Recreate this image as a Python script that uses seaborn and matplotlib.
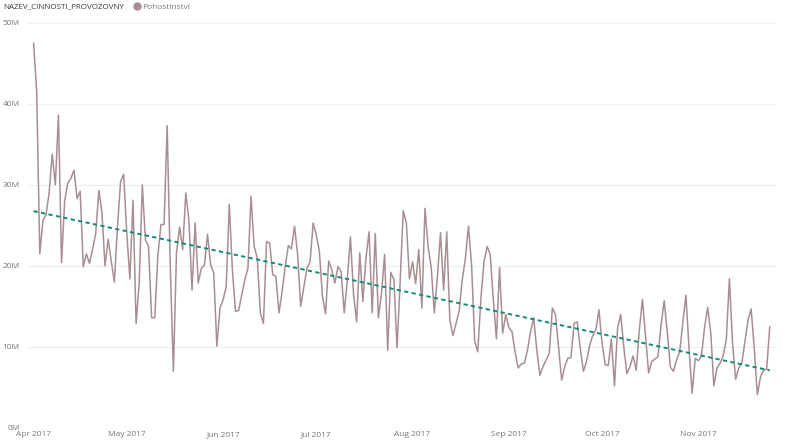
# Daily sales of the "Pohostinství" category, Apr-Nov 2017, with linear trend
import numpy as np
import pandas as pd
import matplotlib
matplotlib.use("Agg")
import matplotlib.pyplot as plt
import matplotlib.dates as mdates
from matplotlib.lines import Line2D
from matplotlib.ticker import FuncFormatter
import seaborn as sns

# 1. Data (millions, one value per day)
apr = [47.5, 41.5, 21.5, 25.6, 26.3, 29.0, 33.8, 30.0, 38.6, 20.4,
       28.0, 30.2, 30.8, 31.8, 28.3, 29.2, 19.9, 21.5, 20.3, 22.1,
       24.0, 29.3, 26.6, 20.0, 23.3, 20.6, 18.0, 24.8, 30.4, 31.3]
may = [24.0, 18.4, 28.1, 12.9, 17.9, 30.0, 23.2, 22.4, 13.6, 13.6,
       21.2, 25.1, 25.1, 37.3, 20.0, 7.0, 21.6, 24.8, 22.0, 29.0,
       25.7, 17.0, 25.3, 17.9, 19.7, 20.1, 23.9, 20.1, 19.1, 10.1, 14.8]
jun = [15.8, 17.4, 27.6, 19.5, 14.4, 14.5, 16.4, 18.3, 19.7, 28.6,
       22.4, 21.0, 14.2, 12.9, 23.0, 22.8, 18.9, 18.7, 14.2, 16.8,
       19.9, 22.5, 22.1, 24.9, 21.4, 15.0, 17.4, 19.7, 20.5, 25.3]
jul = [23.8, 21.8, 16.2, 14.1, 20.6, 19.5, 17.9, 19.9, 19.3, 14.2,
       18.3, 23.6, 16.5, 13.1, 21.6, 15.6, 21.0, 24.2, 14.2, 24.0,
       13.6, 16.6, 21.4, 9.6, 19.2, 18.3, 9.9, 18.0, 26.8, 25.3, 18.4]
aug = [20.5, 17.8, 22.0, 14.8, 27.1, 22.4, 19.8, 14.2, 18.7, 24.1,
       17.0, 24.2, 13.3, 11.4, 12.9, 14.4, 18.3, 20.9, 24.9, 20.1,
       10.7, 9.4, 16.0, 20.5, 22.4, 21.4, 15.8, 11.0, 19.8, 11.7, 14.0]
sep = [12.4, 11.9, 9.4, 7.4, 7.9, 8.0, 9.6, 11.9, 13.6, 9.6,
       6.5, 7.6, 8.4, 9.2, 14.8, 14.0, 10.0, 5.9, 7.6, 8.6,
       8.7, 12.9, 13.1, 9.8, 7.0, 8.2, 10.2, 11.4, 12.1, 14.6]
oct_ = [10.5, 7.8, 7.7, 11.0, 5.2, 12.3, 14.0, 10.0, 6.7, 7.6,
        8.9, 7.1, 12.1, 15.9, 11.3, 6.8, 8.2, 8.5, 8.8, 12.7,
        15.7, 11.8, 7.5, 7.0, 8.4, 9.4, 13.0, 16.4, 9.8, 4.3, 8.6]
nov = [8.3, 8.9, 12.4, 14.9, 11.7, 5.2, 7.4, 8.0, 8.9, 10.9,
       18.4, 10.5, 6.0, 7.4, 8.0, 10.7, 13.3, 14.7, 9.8, 4.1,
       6.3, 7.1, 7.3, 12.5]

legend_title = "NAZEV_CINNOSTI_PROVOZOVNY"
series_name = "Pohostinství"

line_color = "#a88e92"
trend_color = "#178a7b"

values = np.array(apr + may + jun + jul + aug + sep + oct_ + nov) * 1e6
dates = pd.date_range("2017-04-01", periods=len(values), freq="D")
df = pd.DataFrame({"datum": dates, "trzby": values})

# 2. Style
sns.set_theme(style="white")
plt.rcParams["font.family"] = ["Open Sans", "DejaVu Sans"]

# 3. Plot
fig = plt.figure(figsize=(7.91, 4.45), dpi=100)
ax = fig.add_axes([28 / 791, 1 - 428 / 445, (776 - 28) / 791, (428 - 22.7) / 445])

sns.lineplot(data=df, x="datum", y="trzby", color=line_color, linewidth=1.1, ax=ax)

# linear trend line (least squares)
x_num = mdates.date2num(df["datum"])
coef = np.polyfit(x_num, df["trzby"], 1)
ax.plot(df["datum"], np.polyval(coef, x_num), color=trend_color,
        linewidth=1.4, linestyle=(0, (2.2, 1.7)))

ax.set_ylim(0, 50e6)
ax.set_xlim(dates[0] - pd.Timedelta(days=1.8), dates[0] + pd.Timedelta(days=239))
ax.set_yticks(np.arange(0, 51e6, 10e6))
ax.yaxis.set_major_formatter(FuncFormatter(lambda v, p: f"{v / 1e6:.0f}M"))
ax.xaxis.set_major_locator(mdates.MonthLocator())
ax.xaxis.set_major_formatter(mdates.DateFormatter("%b %Y"))

ax.grid(axis="y", color="#eeeeee", linewidth=0.8)
ax.grid(axis="x", visible=False)
sns.despine(ax=ax, left=True, bottom=True)
ax.tick_params(axis="both", length=0, labelsize=6, colors="#777777")
ax.tick_params(axis="y", pad=6)
ax.tick_params(axis="x", pad=2)
ax.set_xlabel("")
ax.set_ylabel("")

# legend in the top line
fig.text(3 / 791, 1 - 7 / 445, legend_title, ha="left", va="center",
         fontsize=5.8, color="#3a3a3a")
handle = Line2D([0], [0], marker="o", linestyle="", color=line_color, markersize=5)
fig.legend([handle], [series_name], loc="center left",
           bbox_to_anchor=(132 / 791, 1 - 7 / 445), frameon=False, fontsize=6,
           labelcolor="#777777", handletextpad=0.05, handlelength=1.2,
           borderpad=0, borderaxespad=0)

fig.savefig("out.png", dpi=100)
